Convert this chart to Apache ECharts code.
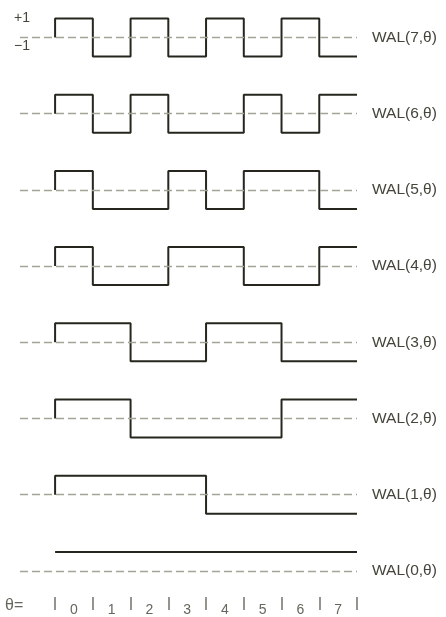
<!DOCTYPE html>
<html lang="en">

<head>
  <meta charset="UTF-8" />
  <title>Walsh functions</title>
  <style>
    body { margin: 0; background: #fff; }
  </style>
</head>

<body>
  <div id="main" style="width: 446px; height: 617px;"></div>
  <script src="https://cdn.jsdelivr.net/npm/echarts@6/dist/echarts.min.js"></script>
  <script type="text/javascript">
    // WAL(k, theta) values over the 8 intervals, k = 0..7
    const walNames = ['WAL(0,θ)', 'WAL(1,θ)', 'WAL(2,θ)', 'WAL(3,θ)', 'WAL(4,θ)', 'WAL(5,θ)', 'WAL(6,θ)', 'WAL(7,θ)']
    const walValues = [
      [1, 1, 1, 1, 1, 1, 1, 1],
      [1, 1, 1, 1, -1, -1, -1, -1],
      [1, 1, -1, -1, -1, -1, 1, 1],
      [1, 1, -1, -1, 1, 1, -1, -1],
      [1, -1, -1, 1, 1, -1, -1, 1],
      [1, -1, -1, 1, -1, 1, 1, -1],
      [1, -1, 1, -1, -1, 1, -1, 1],
      [1, -1, 1, -1, 1, -1, 1, -1]
    ]
    const thetaLabels = ['0', '1', '2', '3', '4', '5', '6', '7']

    const font = 'Liberation Sans, Arial, sans-serif'
    let chart = echarts.init(document.getElementById('main'))

    let grids = [], xAxes = [], yAxes = [], series = []

    walValues.forEach((vals, k) => {
      let row = 7 - k
      let center = 38.5 + row * 76.2
      grids.push({ left: 20, width: 337, top: center - 20, height: 38 })
      xAxes.push({ type: 'value', gridIndex: k, min: -0.93, max: 8, show: false })
      yAxes.push({ type: 'value', gridIndex: k, min: -1, max: 1, show: false })

      // step points: start on the zero line, hold each value for one interval
      let data = vals.map((v, i) => [i, v])
      data.push([8, vals[7]])
      if (k > 0) data.unshift([0, 0])

      series.push({
        type: 'line',
        xAxisIndex: k,
        yAxisIndex: k,
        step: 'end',
        symbol: 'none',
        clip: false,
        data,
        lineStyle: { color: '#26261f', width: 2 },
        markLine: {
          silent: true,
          symbol: 'none',
          lineStyle: { color: '#a4a496', width: 1.3, type: [8, 4] },
          label: {
            show: true,
            position: 'end',
            distance: 15,
            formatter: walNames[k],
            color: '#45453b',
            fontFamily: font,
            fontSize: 15.5
          },
          data: [{ yAxis: 0 }]
        }
      })
    })

    // theta axis at the bottom
    let ax = walValues.length
    grids.push({ left: 55, width: 302, top: 590, height: 7 })
    xAxes.push({
      type: 'category',
      gridIndex: ax,
      data: thetaLabels,
      position: 'bottom',
      axisLine: { show: false },
      axisTick: { show: true, length: 13, lineStyle: { color: '#7a7a70', width: 1.6 } },
      axisLabel: { margin: 6, fontSize: 14, color: '#66665c', fontFamily: font }
    })
    yAxes.push({ type: 'value', gridIndex: ax, show: false })

    let option = {
      animation: false,
      backgroundColor: '#fff',
      grid: grids,
      xAxis: xAxes,
      yAxis: yAxes,
      series,
      graphic: [
        { type: 'text', left: 14, top: 11, style: { text: '+1', font: '14px ' + font, fill: '#45453b' } },
        { type: 'text', left: 14, top: 39, style: { text: '−1', font: '14px ' + font, fill: '#45453b' } },
        { type: 'text', left: 5, top: 598, style: { text: 'θ=', font: '16px ' + font, fill: '#66665c' } }
      ]
    }
    chart.setOption(option)
  </script>
</body>

</html>
